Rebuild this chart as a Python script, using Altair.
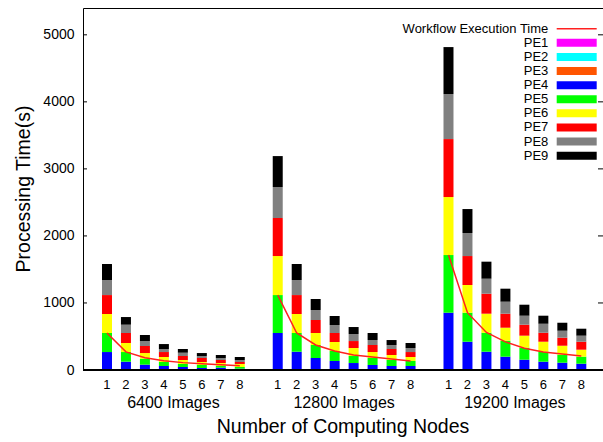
import altair as alt
import pandas as pd

FONT = "Liberation Sans"

images = ["6400 Images", "12800 Images", "19200 Images"]
nodes = [1, 2, 3, 4, 5, 6, 7, 8]
pe_names = ["PE1", "PE2", "PE3", "PE4", "PE5", "PE6", "PE7", "PE8", "PE9"]
pe_colors = ["#ff00ff", "#00ffff", "#ff5500", "#0000ff", "#00ff00",
             "#ffff00", "#ff0000", "#808080", "#000000"]

# processing time per PE, one list per image set (nodes 1..8)
pe1 = [[0, 0, 0, 0, 0, 0, 0, 0], [0, 0, 0, 0, 0, 0, 0, 0], [0, 0, 0, 0, 0, 0, 0, 0]]
pe2 = [[0, 0, 0, 0, 0, 0, 0, 0], [0, 0, 0, 0, 0, 0, 0, 0], [0, 0, 0, 0, 0, 0, 0, 0]]
pe3 = [[0, 0, 0, 0, 0, 0, 0, 0], [0, 0, 0, 0, 0, 0, 0, 0], [0, 0, 0, 0, 0, 0, 0, 0]]
pe4 = [[268, 124, 80, 60, 45, 30, 35, 20],
       [552, 273, 179, 134, 104, 75, 60, 60],
       [855, 422, 273, 199, 154, 124, 109, 94]]
pe5 = [[284, 144, 89, 59, 45, 45, 25, 25],
       [566, 279, 194, 149, 105, 104, 89, 74],
       [860, 433, 283, 238, 179, 149, 119, 105]]
pe6 = [[283, 135, 84, 75, 59, 44, 44, 45],
       [582, 283, 179, 135, 119, 89, 75, 60],
       [865, 413, 284, 194, 179, 149, 134, 104]]
pe7 = [[283, 149, 105, 74, 60, 60, 45, 29],
       [567, 283, 194, 134, 104, 105, 89, 74],
       [865, 432, 298, 209, 164, 134, 120, 119]]
pe8 = [[224, 124, 74, 45, 49, 30, 30, 30],
       [462, 224, 149, 119, 105, 74, 60, 60],
       [671, 343, 224, 179, 134, 134, 104, 90]]
pe9 = [[239, 114, 90, 74, 55, 44, 45, 45],
       [462, 239, 164, 134, 104, 105, 74, 75],
       [701, 358, 254, 194, 164, 120, 119, 104]]
pe_values = [pe1, pe2, pe3, pe4, pe5, pe6, pe7, pe8, pe9]

# workflow execution time per image set
wf = [[552, 270, 184, 139, 110, 94, 77, 62],
      [1118, 552, 373, 283, 224, 194, 164, 134],
      [1715, 855, 560, 420, 325, 270, 240, 210]]

y_ticks = [0, 1000, 2000, 3000, 4000, 5000]
legend_labels = ["Workflow Execution Time"] + pe_names

bar_rows, line_rows, node_rows = [], [], []
for gi, g in enumerate(images):
    for ni, n in enumerate(nodes):
        node_rows.append({"gidx": gi, "node": n})
        line_rows.append({"group": g, "gidx": gi, "node": n, "wf": wf[gi][ni]})
        for pi, pe in enumerate(pe_names):
            bar_rows.append({"group": g, "gidx": gi, "node": n, "pe": pe,
                             "pidx": pi, "value": pe_values[pi][gi][ni]})
df_bars = pd.DataFrame(bar_rows)
df_line = pd.DataFrame(line_rows)
df_nodes = pd.DataFrame(node_rows)
df_groups = pd.DataFrame({"group": images, "gidx": [0, 1, 2]})
df_ticks = pd.DataFrame({"t": y_ticks})
df_one = pd.DataFrame({"a": [0]})
df_leg_pe = pd.DataFrame({"label": pe_names})
df_leg_wf = pd.DataFrame({"label": ["Workflow Execution Time"]})
df_leg_all = pd.DataFrame({"label": legend_labels})

W, H = 520, 362
xscale = alt.Scale(domain=[0, 26.88], nice=False, zero=False)
yscale = alt.Scale(domain=[0, 5400], nice=False)
xpos = alt.X("pos:Q", scale=xscale, axis=None)
color_scale = alt.Scale(domain=pe_names, range=pe_colors)
leg_y = alt.Y("label:N", scale=alt.Scale(type="point", domain=legend_labels,
                                         range=[20.7, 147.7], padding=0), axis=None)

bars = alt.Chart(df_bars).transform_calculate(
    pos="datum.gidx * 9 + datum.node"
).mark_bar(size=10).encode(
    x=xpos,
    y=alt.Y("value:Q", stack="zero", scale=yscale,
            axis=alt.Axis(values=y_ticks, format="d", ticks=False, domain=False,
                          grid=False, labelFontSize=14, labelPadding=9,
                          labelFont=FONT, labelColor="black", title=None)),
    color=alt.Color("pe:N", scale=color_scale, legend=None),
    order=alt.Order("pidx:Q", sort="ascending"),
)

line = alt.Chart(df_line).transform_calculate(
    pos="datum.gidx * 9 + datum.node"
).mark_line(color="#ff2020", strokeWidth=1.5).encode(
    x=xpos,
    y=alt.Y("wf:Q", scale=yscale, axis=None),
    detail="group:N",
)

ticks_left = alt.Chart(df_ticks).mark_rule(color="black").encode(
    y=alt.Y("t:Q", scale=yscale, axis=None), x=alt.value(0), x2=alt.value(4))
ticks_right = alt.Chart(df_ticks).mark_rule(color="black").encode(
    y=alt.Y("t:Q", scale=yscale, axis=None), x=alt.value(W - 5), x2=alt.value(W))
bottom = alt.Chart(df_one).mark_rule(color="black", strokeWidth=2).encode(
    y=alt.value(H), x=alt.value(0), x2=alt.value(W))

node_labels = alt.Chart(df_nodes).transform_calculate(
    pos="datum.gidx * 9 + datum.node"
).mark_text(fontSize=13, font=FONT, baseline="middle", color="black").encode(
    x=xpos, y=alt.value(376.7), text="node:N")

group_labels = alt.Chart(df_groups).transform_calculate(
    pos="datum.gidx * 9 + 4.5"
).mark_text(fontSize=16, font=FONT, baseline="middle", color="black").encode(
    x=xpos, y=alt.value(394.7), text="group:N")

xtitle = alt.Chart(pd.DataFrame({"t": ["Number of Computing Nodes"]})).mark_text(
    fontSize=19.5, font=FONT, baseline="middle", color="black").encode(
    x=alt.value(W / 2), y=alt.value(419), text="t:N")
ytitle = alt.Chart(pd.DataFrame({"t": ["Processing Time(s)"]})).mark_text(
    fontSize=19.5, font=FONT, baseline="middle", angle=270, color="black").encode(
    x=alt.value(-59), y=alt.value(181), text="t:N")

leg_swatch = alt.Chart(df_leg_pe).mark_rule(strokeWidth=8, strokeCap="butt").encode(
    y=leg_y, x=alt.value(473.7), x2=alt.value(513.7),
    color=alt.Color("label:N", scale=color_scale, legend=None))
leg_line = alt.Chart(df_leg_wf).mark_rule(strokeWidth=1.5, color="#ff2020").encode(
    y=leg_y, x=alt.value(473.7), x2=alt.value(513.7))
leg_text = alt.Chart(df_leg_all).mark_text(
    fontSize=13, font=FONT, align="right", baseline="middle", color="black").encode(
    y=leg_y, x=alt.value(465.3), text="label:N")

chart = alt.layer(
    bars, line, ticks_left, ticks_right, bottom, node_labels, group_labels,
    xtitle, ytitle, leg_swatch, leg_line, leg_text
).resolve_scale(y="independent").properties(
    width=W, height=H,
    autosize=alt.AutoSizeParams(type="none"),
    padding={"left": 83, "top": 8, "right": 0, "bottom": 72},
    background="white",
).configure_view(stroke="black", strokeWidth=1)

chart.save("out.html", embed_options={"renderer": "svg", "actions": False})
